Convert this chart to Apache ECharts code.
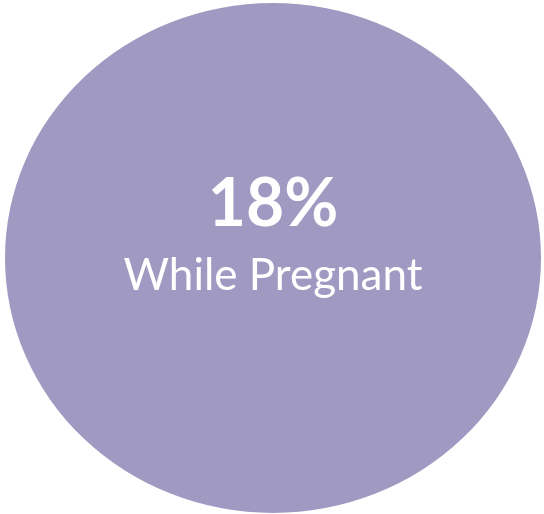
<!DOCTYPE html>
<html>
<head>
<meta charset="utf-8">
<style>
  html, body { margin: 0; padding: 0; background: #ffffff; }
  #chart { width: 544px; height: 514px; }
</style>
<script src="https://cdn.jsdelivr.net/npm/echarts@6/dist/echarts.min.js"></script>
</head>
<body>
<div id="chart"></div>
<script>
// Share of respondents, shown as a single highlighted bubble
const categories = ['While Pregnant'];
const percentValues = [18];

const chart = echarts.init(document.getElementById('chart'), null, { renderer: 'canvas' });

chart.setOption({
  animation: false,
  backgroundColor: '#ffffff',
  grid: { left: 5, right: 3, top: 3, bottom: 1 },
  xAxis: { type: 'value', min: -1, max: 1, show: false },
  yAxis: { type: 'value', min: -1, max: 1, show: false },
  series: [{
    type: 'scatter',
    symbol: 'circle',
    symbolSize: [536, 510],
    itemStyle: { color: '#A099C1', opacity: 1 },
    data: categories.map((name, i) => ({ name: name, value: [0, 0, percentValues[i]] })),
    label: {
      show: true,
      position: 'inside',
      offset: [0, -18],
      formatter: p => '{pct|' + p.value[2] + '%}\n{name|' + p.name + '}',
      rich: {
        pct: {
          fontFamily: 'Lato', fontWeight: 'bold', fontSize: 66,
          color: '#ffffff', lineHeight: 72
        },
        name: {
          fontFamily: 'Lato', fontSize: 44, color: '#ffffff', lineHeight: 70
        }
      }
    },
    emphasis: { disabled: true }
  }]
});
</script>
</body>
</html>
